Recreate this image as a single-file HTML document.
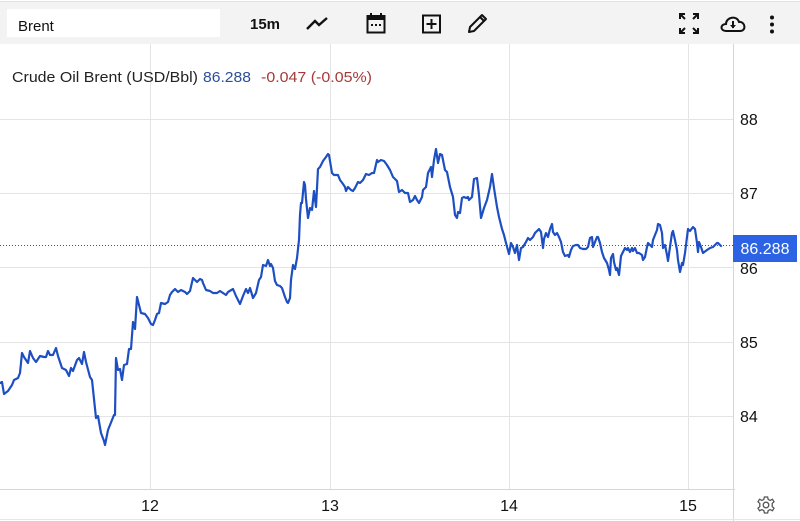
<!DOCTYPE html>
<html><head><meta charset="utf-8"><style>
html,body{margin:0;padding:0;background:#fff;}
svg{display:block;}
text{font-family:"Liberation Sans",Arial,sans-serif;}
</style></head><body>
<svg width="800" height="521" viewBox="0 0 800 521" xmlns="http://www.w3.org/2000/svg">
<rect x="0" y="0" width="800" height="521" fill="#fff"/>
<!-- toolbar -->
<rect x="0" y="2" width="800" height="42" fill="#f3f3f3"/>
<line x1="0" y1="1.5" x2="800" y2="1.5" stroke="#e2e2e2" stroke-width="1"/>
<rect x="7" y="9" width="213" height="28" fill="#fff"/>
<text x="18" y="31" font-size="15" fill="#111">Brent</text>
<text x="250" y="29" font-size="15" font-weight="bold" fill="#111">15m</text>
<!-- trend icon -->
<polyline points="307,29 315,21 319,25 327,18" fill="none" stroke="#111" stroke-width="2.4" stroke-linejoin="miter"/>
<!-- calendar -->
<rect x="367.5" y="16" width="17" height="16.5" fill="none" stroke="#111" stroke-width="2"/>
<rect x="367.5" y="16" width="17" height="4" fill="#111"/>
<rect x="370" y="13" width="2" height="4" fill="#111"/>
<rect x="380" y="13" width="2" height="4" fill="#111"/>
<rect x="371" y="24" width="2" height="2" fill="#111"/><rect x="375" y="24" width="2" height="2" fill="#111"/><rect x="379" y="24" width="2" height="2" fill="#111"/>
<!-- plus box -->
<rect x="423" y="15.5" width="17" height="17" fill="none" stroke="#111" stroke-width="2"/>
<line x1="431.5" y1="19" x2="431.5" y2="29" stroke="#111" stroke-width="2"/>
<line x1="426.5" y1="24" x2="436.5" y2="24" stroke="#111" stroke-width="2"/>
<!-- pencil -->
<path d="M469,32 L470,27 L482,15 L486,19 L474,31 Z" fill="none" stroke="#111" stroke-width="2" stroke-linejoin="round"/>
<line x1="480" y1="17" x2="484" y2="21" stroke="#111" stroke-width="2"/>
<!-- expand -->
<g stroke="#111" stroke-width="2" fill="none">
<path d="M680,19 L680,14 L685,14 M680,14 L685,19"/>
<path d="M698,19 L698,14 L693,14 M698,14 L693,19"/>
<path d="M680,28 L680,33 L685,33 M680,33 L685,28"/>
<path d="M698,28 L698,33 L693,33 M698,33 L693,28"/>
</g>
<!-- cloud download -->
<path d="M726,31 C720,31 720,24 726,24 C726,17 737,15 739,22 C745,21 747,31 740,31 Z" fill="none" stroke="#111" stroke-width="2"/>
<line x1="733" y1="21" x2="733" y2="28" stroke="#111" stroke-width="2"/>
<path d="M730,25 L733,28.5 L736,25 Z" fill="#111"/>
<!-- kebab -->
<circle cx="772" cy="17.5" r="2" fill="#111"/><circle cx="772" cy="24.5" r="2" fill="#111"/><circle cx="772" cy="31.5" r="2" fill="#111"/>

<!-- grid -->
<g stroke="#e4e4e4" stroke-width="1">
<line x1="150.5" y1="44" x2="150.5" y2="489"/>
<line x1="330.5" y1="44" x2="330.5" y2="489"/>
<line x1="509.5" y1="44" x2="509.5" y2="489"/>
<line x1="688.5" y1="44" x2="688.5" y2="489"/>
<line x1="0" y1="119.5" x2="733" y2="119.5"/>
<line x1="0" y1="193.5" x2="733" y2="193.5"/>
<line x1="0" y1="267.5" x2="733" y2="267.5"/>
<line x1="0" y1="342.5" x2="733" y2="342.5"/>
<line x1="0" y1="416.5" x2="733" y2="416.5"/>
</g>
<line x1="733.5" y1="44" x2="733.5" y2="521" stroke="#d6d6d6" stroke-width="1"/>
<line x1="0" y1="489.5" x2="735" y2="489.5" stroke="#d6d6d6" stroke-width="1"/>
<line x1="0" y1="519.5" x2="800" y2="519.5" stroke="#e6e6e6" stroke-width="1"/>

<!-- legend -->
<text x="12" y="82" font-size="15" fill="#222" textLength="186" lengthAdjust="spacingAndGlyphs">Crude Oil Brent (USD/Bbl)</text>
<text x="203" y="82" font-size="15" fill="#2d4f9c" textLength="48" lengthAdjust="spacingAndGlyphs">86.288</text>
<text x="261" y="82" font-size="15" fill="#a63a3a" textLength="111" lengthAdjust="spacingAndGlyphs">-0.047 (-0.05%)</text>

<!-- dotted current price line -->
<line x1="0" y1="245.5" x2="733" y2="245.5" stroke="#555" stroke-width="1" stroke-dasharray="1,2"/>

<!-- series -->
<polyline fill="none" stroke="#1e4fc2" stroke-width="2.2" stroke-linejoin="round" stroke-linecap="round" points="0,383 2,382 4,394 8,391 12,385 14,380 18,378 20,373 22,353 24,357 28,363 30,351 33,358 36,362 40,356 44,357 46,357 48,351 50,355 53,355 56,348 58,356 62,368 66,370 69,376 71,368 73,371 77,360 79,358 82,364 84,352 86,362 90,377 92,380 96,418 98,416 101,433 104,441 105,445 108,430 112,420 114,415 115,415 116,358 118,370 120,369 122,380 124,365 127,364 129,349 131,349 133,322 135,329 137,297 141,313 145,314 148,318 151,324 153,325 155,320 157,314 159,313 161,303 165,304 168,302 170,295 172,292 175,289 178,292 181,290 185,292 187,294 190,291 193,278 197,282 200,279 202,280 203,283 206,290 210,291 213,293 217,293 220,291 223,293 226,295 228,292 233,289 236,296 240,304 243,296 246,289 248,293 250,288 253,298 256,293 259,280 261,277 263,265 266,266 268,260 270,266 271,264 273,268 275,281 277,285 280,286 282,288 285,297 287,302 288,303 290,298 291,280 293,265 295,269 297,258 299,240 300,215 301,203 302,203 304,182 305,185 306,199 308,218 310,208 312,210 314,191 316,207 318,169 320,167 323,161 326,157 328,154 329,155 332,173 334,175 338,175 340,180 343,184 345,187 346,191 348,187 351,190 353,191 355,188 358,182 360,183 363,180 366,174 369,175 372,173 374,173 377,160 378,162 381,160 384,161 387,165 390,170 393,177 397,181 399,192 402,190 405,193 408,193 410,202 413,200 415,196 417,200 419,203 422,197 423,190 426,187 428,173 431,167 432,177 434,160 436,149 438,163 440,154 442,155 445,170 447,172 450,187 453,197 455,215 457,218 458,212 460,213 462,198 464,197 466,198 468,197 469,200 472,197 474,179 477,178 479,195 481,218 484,208 487,200 490,187 492,174 494,188 497,207 499,217 502,229 504,235 506,243 509,254 511,243 513,247 515,253 517,245 518,253 519,260 521,248 523,247 526,242 528,238 530,240 533,237 535,233 537,231 539,229 541,232 543,248 544,239 546,233 548,237 550,229 552,224 553,232 555,235 557,233 559,237 561,242 563,252 565,256 568,255 569,257 571,250 573,246 576,245 578,245 580,248 583,249 586,249 588,247 590,238 592,237 593,247 595,242 597,237 598,237 600,243 602,252 604,258 607,263 609,270 610,275 611,258 613,254 614,262 616,270 617,268 619,275 621,256 623,252 625,248 627,250 628,248 630,252 632,248 633,251 635,248 637,253 639,253 642,255 643,260 645,257 647,247 648,243 650,245 652,247 653,240 655,235 657,230 658,224 660,225 662,233 663,248 665,245 667,255 668,261 670,247 672,233 673,231 675,240 677,250 678,260 680,272 682,263 683,265 685,253 687,237 688,229 690,231 693,227 695,229 697,243 698,252 699,242 701,247 703,253 707,250 710,248 713,247 717,243 718,243 721,246"/>

<!-- y axis labels -->
<g font-size="16" fill="#111">
<text x="740" y="125">88</text>
<text x="740" y="199">87</text>
<text x="740" y="274">86</text>
<text x="740" y="348">85</text>
<text x="740" y="422">84</text>
</g>
<!-- price label -->
<rect x="733" y="235" width="64" height="27" fill="#2c62e4"/>
<text x="765" y="254" font-size="16" fill="#fff" text-anchor="middle">86.288</text>

<!-- x axis labels -->
<g font-size="16" fill="#111" text-anchor="middle">
<text x="150" y="511">12</text>
<text x="330" y="511">13</text>
<text x="509" y="511">14</text>
<text x="688" y="511">15</text>
</g>
<!-- gear -->
<g transform="translate(766,505)" fill="none" stroke="#555" stroke-width="1.3">
<path d="M-1.6,-8 L1.6,-8 L2.2,-5.6 L4.2,-4.6 L6.4,-5.8 L8,-3.2 L6.2,-1.6 L6.2,1.6 L8,3.2 L6.4,5.8 L4.2,4.6 L2.2,5.6 L1.6,8 L-1.6,8 L-2.2,5.6 L-4.2,4.6 L-6.4,5.8 L-8,3.2 L-6.2,1.6 L-6.2,-1.6 L-8,-3.2 L-6.4,-5.8 L-4.2,-4.6 L-2.2,-5.6 Z"/>
<circle cx="0" cy="0" r="2.8"/>
</g>
</svg>
</body></html>
